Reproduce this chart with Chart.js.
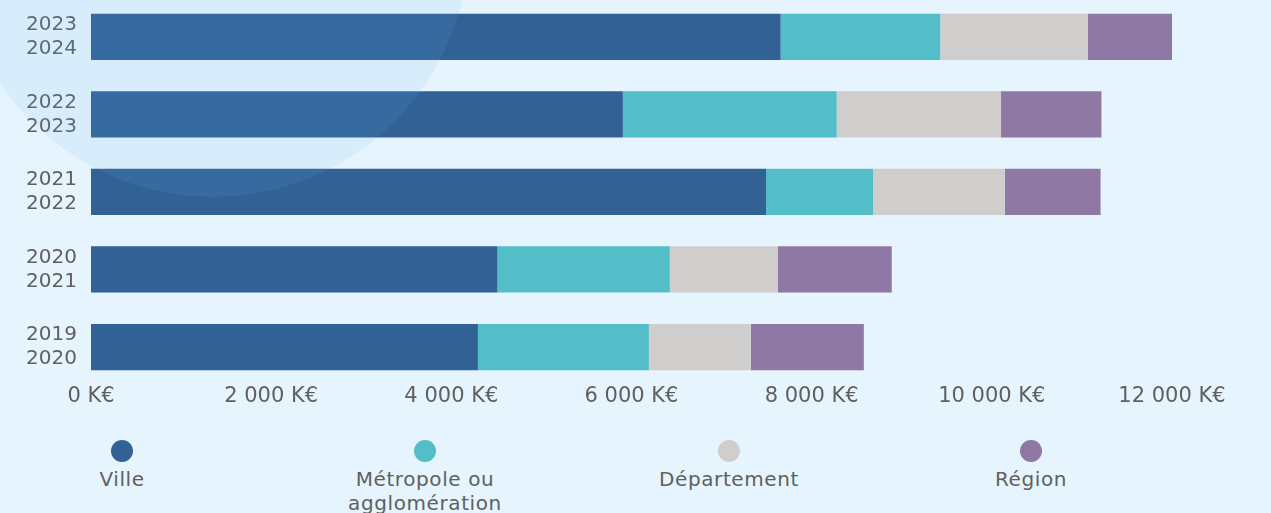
<!DOCTYPE html>
<html>
<head>
<meta charset="utf-8">
<script src="https://cdn.jsdelivr.net/npm/chart.js@4"></script>
<style>
  html, body { margin: 0; padding: 0; }
  body { width: 1271px; height: 513px; background: #e5f4fd; position: relative; overflow: hidden; font-family: "DejaVu Sans", sans-serif; }
  #wrap { position: absolute; left: 0; top: -2px; width: 1271px; height: 420px; }
  .leg { position: absolute; top: 440px; width: 300px; text-align: center; color: #606060; font-size: 20px; line-height: 24px; letter-spacing: 0.6px; }
  .leg .dot { width: 22px; height: 22px; border-radius: 50%; margin: 0 auto 5px auto; }
</style>
</head>
<body>
<div id="wrap"><canvas id="c"></canvas></div>
<div id="legend"></div>
<script>
const categories = [["2023","2024"],["2022","2023"],["2021","2022"],["2020","2021"],["2019","2020"]];
const seriesNames = ["Ville", "Métropole ou\nagglomération", "Département", "Région"];
const ville       = [7656, 5904, 7494, 4512, 4295];
const metropole   = [1771, 2374, 1187, 1913, 1898];
const departement = [1638, 1824, 1463, 1199, 1132];
const region      = [940, 1115, 1063, 1265, 1254];
const tickValues  = [0, 2000, 4000, 6000, 8000, 10000, 12000];
const colors = ["#316195", "#54bec8", "#cfcecd", "#8f78a3"];

const FONT = "'DejaVu Sans', sans-serif";

function fmt(v) {
  return String(v).replace(/\B(?=(\d{3})+(?!\d))/g, " ") + " K€";
}

const circlePlugin = {
  id: "bgCircle",
  afterDatasetsDraw(chart) {
    const ctx = chart.ctx;
    ctx.save();
    ctx.fillStyle = "rgba(106,178,240,0.11)";
    ctx.beginPath();
    ctx.arc(213, -57, 256, 0, Math.PI * 2);
    ctx.fill();
    ctx.restore();
  }
};

const allSeries = [ville, metropole, departement, region];
new Chart(document.getElementById("c"), {
  type: "bar",
  data: {
    labels: categories,
    datasets: allSeries.map((d, i) => ({
      label: seriesNames[i],
      data: d,
      backgroundColor: colors[i],
      borderWidth: 0,
      categoryPercentage: 1,
      barPercentage: 0.596
    }))
  },
  options: {
    indexAxis: "y",
    responsive: true,
    maintainAspectRatio: false,
    animation: false,
    layout: { padding: { left: 0, right: 99, top: 0, bottom: 11 } },
    plugins: { legend: { display: false }, tooltip: { enabled: false } },
    scales: {
      x: {
        stacked: true,
        min: 0,
        max: 12000,
        afterBuildTicks(scale) { scale.ticks = tickValues.map(v => ({ value: v })); },
        grid: { display: false, drawTicks: false },
        border: { display: false },
        ticks: {
          padding: -2,
          color: "#606060",
          font: { family: FONT, size: 21 },
          maxRotation: 0,
          autoSkip: false,
          callback: (v) => fmt(v)
        }
      },
      y: {
        stacked: true,
        grid: { display: false, drawTicks: false },
        border: { display: false },
        afterFit(scale) {
          scale.width = 91;
          scale.paddingTop = 0;
          scale.paddingBottom = 0;
        },
        ticks: {
          padding: 14,
          color: "#606060",
          font: { family: FONT, size: 20, lineHeight: 1.2 }
        }
      }
    }
  },
  plugins: [circlePlugin]
});

// HTML legend (labels under the dots)
const legendCenters = [122, 425, 729, 1031];
const legend = document.getElementById("legend");
seriesNames.forEach((name, i) => {
  const el = document.createElement("div");
  el.className = "leg";
  el.style.left = (legendCenters[i] - 150) + "px";
  const dot = document.createElement("div");
  dot.className = "dot";
  dot.style.background = colors[i];
  el.appendChild(dot);
  name.split("\n").forEach(line => {
    const t = document.createElement("div");
    t.textContent = line;
    el.appendChild(t);
  });
  legend.appendChild(el);
});
</script>
</body>
</html>
